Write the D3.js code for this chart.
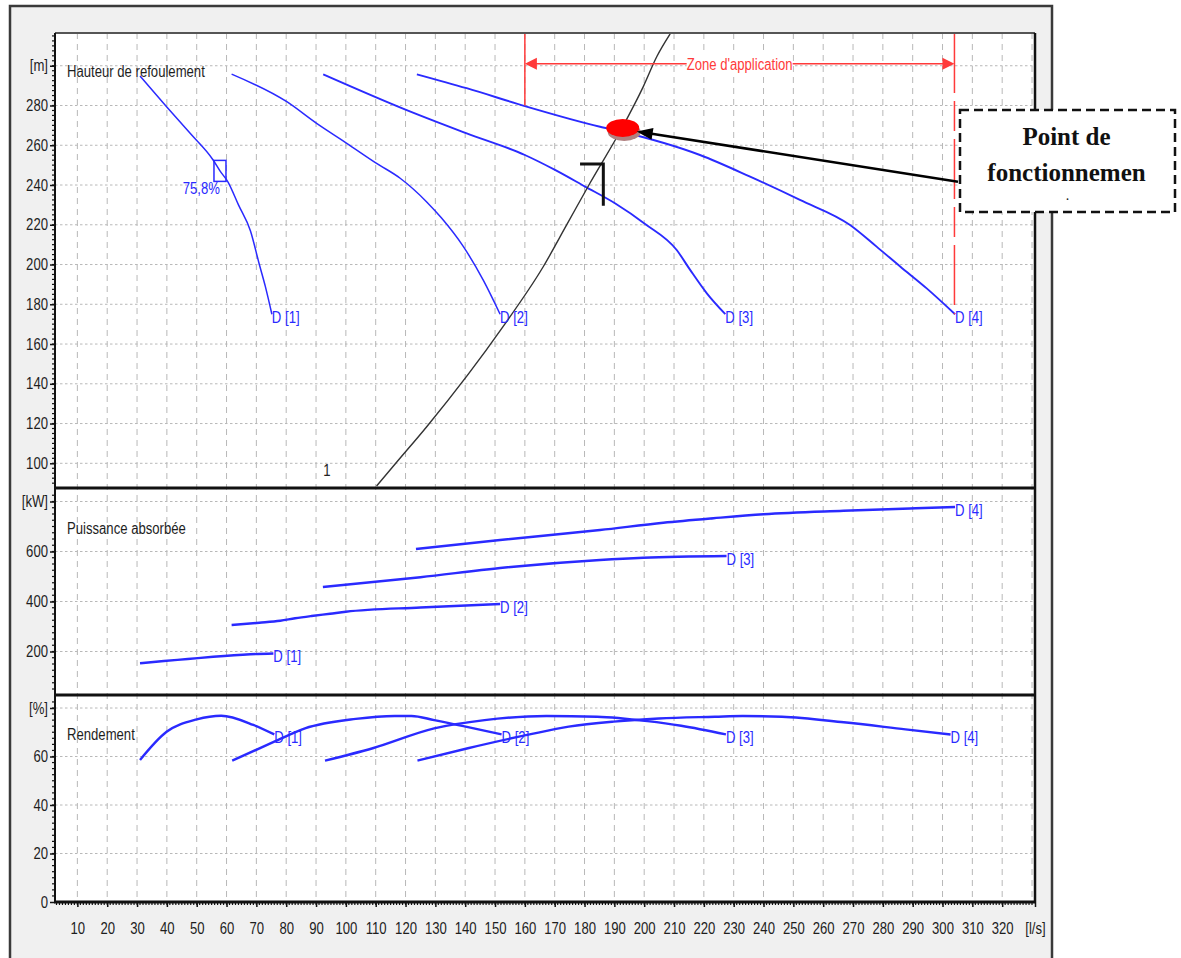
<!DOCTYPE html>
<html>
<head>
<meta charset="utf-8">
<script src="https://cdn.jsdelivr.net/npm/d3@7"></script>
<style>
  body { margin: 0; background: #fff; }
  svg { display: block; }
  .t { font-family: "Liberation Sans", Arial, sans-serif; font-size: 16px; }
</style>
</head>
<body>
<div id="chart"></div>
<script>
// ---- Daten ----
// Achsenbeschriftungen
const qTicks = [10,20,30,40,50,60,70,80,90,100,110,120,130,140,150,160,170,180,190,200,210,220,230,240,250,260,270,280,290,300,310,320];
const hTicks = [100,120,140,160,180,200,220,240,260,280];
const pTicks = [200,400,600];
const eTicks = [0,20,40,60];

// Förderhöhe H(Q) [m] der 4 Pumpen
const flowH1 = [31, 39.9, 47.8, 55.5, 57.8, 60.5, 64, 68, 71, 73, 75.2];
const headH1 = [294.8, 279.4, 266, 252.6, 247.1, 241.5, 230, 217, 200, 189, 175];
const flowH2 = [61.7, 80.2, 90.2, 100.3, 110.3, 118.2, 127.1, 132, 139.4, 146.1, 151.7];
const headH2 = [295.8, 281.9, 271, 261, 250.9, 243.4, 231.5, 223.5, 209, 192, 175];
const flowH3 = [92.4, 120.4, 140.5, 160, 170.1, 180.2, 190.2, 200.3, 210.9, 215.4, 221, 227.2];
const headH3 = [295.7, 277.7, 266, 255.1, 247.6, 239.2, 230.8, 220.4, 207.3, 197.3, 185.5, 175];
const flowH4 = [123.8, 140.5, 160, 185.2, 192.5, 218.7, 235.5, 252.2, 269, 277.9, 285.8, 294.7, 304.2];
const headH4 = [295.7, 288.7, 279.7, 269.3, 266.8, 255.1, 244.2, 232.5, 219.9, 209, 199, 188, 175];

// Anlagenkennlinie (schwarz)
const flowSys = [110.3, 117, 127.1, 152.8, 166.2, 174, 181.8, 192.6, 199.7, 204.2, 208.7];
const headSys = [88.6, 100.5, 118.4, 169, 199, 219.9, 240.9, 268.8, 289.5, 304.5, 316];

// Leistung P(Q) [kW]
const flowP1 = [31, 39, 47, 55.5, 68, 75.7];
const powP1 = [153, 162, 170, 179, 189, 192];
const flowP2 = [61.7, 71, 78, 83, 88.5, 94.7, 100, 125, 151.7];
const powP2 = [306, 315, 323, 333, 342, 351, 359, 376, 390];
const flowP3 = [92.3, 125, 151.7, 185.2, 199.7, 227.6];
const powP3 = [458, 497, 534, 566, 575, 582];
const flowP4 = [123.5, 151.7, 185.2, 206.4, 223.2, 240, 266.8, 291, 304.2];
const powP4 = [610, 646, 686, 715, 733, 749, 763, 773, 778];

// Wirkungsgrad [%]
const flowE1 = [31, 39.9, 50, 58.2, 69, 76];
const effE1 = [58.6, 70.2, 75.3, 76.8, 73, 69.1];
const flowE2 = [61.9, 76, 86.3, 103.3, 116.4, 122, 129.6, 139, 152.2];
const effE2 = [58.3, 66.1, 71.6, 75.5, 76.7, 76.7, 75, 72.6, 69.1];
const flowE3 = [93, 109, 129.6, 146.5, 167.2, 184.2, 201.1, 212.4, 227.4];
const effE3 = [58.3, 63.4, 71.6, 75, 76.7, 76.4, 74.6, 72.7, 69.1];
const flowE4 = [124, 140.9, 161.6, 174.7, 189.8, 204.9, 223.7, 233, 246.2, 266.9, 287.6, 302.7];
const effE4 = [58.3, 63.4, 69.1, 72.3, 74.4, 75.7, 76.4, 76.7, 76.4, 74.1, 71.2, 69.1];

const pumpNames = ["D [1]", "D [2]", "D [3]", "D [4]"];
const zoneFlow = [160, 304];       // Zone d'application
const zoneHead = 301;
const bepFlow = 57.8, bepHead = 247.1, bepText = "75,8%";
const opFlow = 192.8, opHead = 268.7;  // Point de fonctionnement
const markFlow = [178.5, 186.3], markHead = [250.6, 229.6];

// ---- Zeichnung ----
const width = 1181, height = 958;
const pl = 55, pr = 1035, pt = 33, pb = 902;
const div1 = 488, div2 = 695;

const svg = d3.select("#chart").append("svg")
  .attr("width", width).attr("height", height)
  .attr("viewBox", `0 0 ${width} ${height}`);

const x = d3.scaleLinear().domain([2.5, 331]).range([pl, pr]);
const yH = d3.scaleLinear().domain([100, 280]).range([463.3, 105.5]);
const yP = d3.scaleLinear().domain([200, 600]).range([651.5, 551.5]);
const yE = d3.scaleLinear().domain([0, 60]).range([902, 756.5]);

const blue = "#2a2aff";
const labelCol = "#1e1e1e";

// Rahmen
svg.append("rect").attr("x", 10).attr("y", 6).attr("width", 1042).attr("height", 960)
  .attr("fill", "#f0f0f0").attr("stroke", "#3a3a3a").attr("stroke-width", 2.5);
svg.append("rect").attr("x", pl).attr("y", pt).attr("width", pr - pl).attr("height", pb - pt)
  .attr("fill", "#fff");

// Clip-Pfade für die drei Bereiche
const defs = svg.append("defs");
[["cH", pt, div1], ["cP", div1, div2], ["cE", div2, pb]].forEach(([id, a, b]) => {
  defs.append("clipPath").attr("id", id).append("rect")
    .attr("x", pl).attr("y", a).attr("width", pr - pl).attr("height", b - a);
});

// Gitter
const grid = svg.append("g");
grid.selectAll("line.v").data([...qTicks, 330]).join("line")
  .attr("x1", d => x(d)).attr("x2", d => x(d)).attr("y1", pt).attr("y2", pb)
  .attr("stroke", "#b8b8b8").attr("stroke-width", 1).attr("stroke-dasharray", "6,5");
const hGrid = [...hTicks.map(yH), yH(300), ...pTicks.map(yP), yP(800), ...eTicks.slice(1).map(yE), yE(80)];
grid.selectAll("line.h").data(hGrid).join("line")
  .attr("x1", pl).attr("x2", pr).attr("y1", d => d).attr("y2", d => d)
  .attr("stroke", "#b8b8b8").attr("stroke-width", 1).attr("stroke-dasharray", "2.5,2.5");

// Kurven
const curve = (ys) => d3.line().x(d => x(d[0])).y(d => ys(d[1])).curve(d3.curveMonotoneX);
const gH = svg.append("g").attr("clip-path", "url(#cH)");
const gP = svg.append("g").attr("clip-path", "url(#cP)");
const gE = svg.append("g").attr("clip-path", "url(#cE)");

const hSets = [[flowH1, headH1], [flowH2, headH2], [flowH3, headH3], [flowH4, headH4]];
const pSets = [[flowP1, powP1], [flowP2, powP2], [flowP3, powP3], [flowP4, powP4]];
const eSets = [[flowE1, effE1], [flowE2, effE2], [flowE3, effE3], [flowE4, effE4]];

hSets.forEach(([q, v], i) => gH.append("path").attr("d", curve(yH)(d3.zip(q, v)))
  .attr("fill", "none").attr("stroke", blue).attr("stroke-width", i < 2 ? 1.5 : 1.9));
pSets.forEach(([q, v]) => gP.append("path").attr("d", curve(yP)(d3.zip(q, v)))
  .attr("fill", "none").attr("stroke", blue).attr("stroke-width", 2.4));
eSets.forEach(([q, v]) => gE.append("path").attr("d", curve(yE)(d3.zip(q, v)))
  .attr("fill", "none").attr("stroke", blue).attr("stroke-width", 2.4));

// Anlagenkennlinie
gH.append("path").attr("d", curve(yH)(d3.zip(flowSys, headSys)))
  .attr("fill", "none").attr("stroke", "#333").attr("stroke-width", 1.4);

// Pumpen-Labels am Kurvenende
const endLabels = (sets, ys) => {
  svg.append("g").selectAll("text").data(sets).join("text")
    .attr("class", "t")
    .attr("x", d => x(d[0][d[0].length - 1]))
    .attr("y", d => ys(d[1][d[1].length - 1]) + 9)
    .attr("fill", blue)
    .text((d, i) => pumpNames[i]);
};
endLabels(hSets, yH);
endLabels(pSets, yP);
endLabels(eSets, yE);

// Bestpunkt D[1]
svg.append("rect").attr("x", x(bepFlow) - 6).attr("y", yH(bepHead) - 10.5)
  .attr("width", 12).attr("height", 21).attr("fill", "none").attr("stroke", blue).attr("stroke-width", 1.5);
svg.append("text").attr("class", "t").attr("x", x(bepFlow)).attr("y", yH(bepHead) + 23)
  .attr("text-anchor", "end").attr("fill", blue).text(bepText);

// Markierung "1" und Winkel
svg.append("text").attr("class", "t").attr("x", 327).attr("y", yH(88.6) - 10)
  .attr("text-anchor", "middle").attr("fill", "#222").text("1");
svg.append("path")
  .attr("d", `M${x(markFlow[0])},${yH(markHead[0])}H${x(markFlow[1])}V${yH(markHead[1])}`)
  .attr("fill", "none").attr("stroke", "#111").attr("stroke-width", 3);

// Zone d'application
const red = "#ff3a3a";
const zg = svg.append("g");
zg.append("line").attr("x1", x(zoneFlow[0])).attr("x2", x(zoneFlow[0]))
  .attr("y1", pt).attr("y2", yH(280)).attr("stroke", red).attr("stroke-width", 1.5);
zg.append("line").attr("x1", x(zoneFlow[1])).attr("x2", x(zoneFlow[1]))
  .attr("y1", pt).attr("y2", yH(175)).attr("stroke", red).attr("stroke-width", 1.5)
  .attr("stroke-dasharray", "60,8,30,8");
zg.append("line").attr("x1", x(zoneFlow[0]) + 10).attr("x2", x(zoneFlow[1]) - 10)
  .attr("y1", yH(zoneHead)).attr("y2", yH(zoneHead)).attr("stroke", red).attr("stroke-width", 1.5);
const zy = yH(zoneHead);
zg.append("path").attr("d", `M${x(zoneFlow[0])},${zy}l12,-6v12z`).attr("fill", red);
zg.append("path").attr("d", `M${x(zoneFlow[1])},${zy}l-12,-6v12z`).attr("fill", red);
const zx = x((zoneFlow[0] + zoneFlow[1]) / 2);
zg.append("rect").attr("x", zx - 53).attr("y", zy - 9).attr("width", 106).attr("height", 18).attr("fill", "#fff");
zg.append("text").attr("class", "t").attr("x", zx).attr("y", zy + 6)
  .attr("text-anchor", "middle").attr("fill", red).text("Zone d'application");

// Achsen
const styleAxis = (g) => {
  g.select(".domain").remove();
  g.selectAll(".tick line").attr("stroke", "#111").attr("stroke-width", 1.5);
  g.selectAll(".tick text").attr("class", "t").attr("fill", labelCol);
};
svg.append("g").attr("transform", `translate(${pl},0)`)
  .call(d3.axisLeft(yH).tickValues([...hTicks, 300]).tickFormat(d => d === 300 ? "[m]" : d).tickSize(5).tickPadding(2))
  .call(styleAxis);
svg.append("g").attr("transform", `translate(${pl},0)`)
  .call(d3.axisLeft(yP).tickValues([...pTicks, 800]).tickFormat(d => d === 800 ? "[kW]" : d).tickSize(5).tickPadding(2))
  .call(styleAxis);
svg.append("g").attr("transform", `translate(${pl},0)`)
  .call(d3.axisLeft(yE).tickValues([...eTicks, 80]).tickFormat(d => d === 80 ? "[%]" : d).tickSize(5).tickPadding(2))
  .call(styleAxis);
svg.append("g").attr("transform", `translate(0,${pb})`)
  .call(d3.axisBottom(x).tickValues([...qTicks, 331]).tickFormat(d => d === 331 ? "[l/s]" : d).tickSize(5).tickPadding(16))
  .call(styleAxis);

// Kleine Teilstriche
const minor = svg.append("g").attr("stroke", "#111").attr("stroke-width", 1.2);
const minorY = [
  ...d3.range(90, 316, 2.5).map(yH),
  ...d3.range(50, 850, 25).map(yP),
  ...d3.range(0, 85, 2.5).map(yE)
].filter(y => y > pt + 1 && y < pb - 1);
minor.selectAll("line.my").data(minorY).join("line")
  .attr("x1", pl - 3).attr("x2", pl).attr("y1", d => d).attr("y2", d => d);
minor.selectAll("line.mx").data(d3.range(3, 331, 1)).join("line")
  .attr("x1", d => x(d)).attr("x2", d => x(d)).attr("y1", pb).attr("y2", pb + 3);

// Rahmen des Diagramms und Trennlinien
svg.append("line").attr("x1", pl).attr("x2", pr).attr("y1", pt).attr("y2", pt).attr("stroke", "#555").attr("stroke-width", 2);
svg.append("line").attr("x1", pl).attr("x2", pl).attr("y1", pt).attr("y2", pb).attr("stroke", "#111").attr("stroke-width", 2);
svg.append("line").attr("x1", pr).attr("x2", pr).attr("y1", pt).attr("y2", pb).attr("stroke", "#111").attr("stroke-width", 2.5);
svg.append("line").attr("x1", pl - 1).attr("x2", pr + 1).attr("y1", pb).attr("y2", pb).attr("stroke", "#111").attr("stroke-width", 3);
[div1, div2].forEach(yv => svg.append("line").attr("x1", pl).attr("x2", pr).attr("y1", yv).attr("y2", yv)
  .attr("stroke", "#111").attr("stroke-width", 3));

// Bereichstitel
[["Hauteur de refoulement", 77], ["Puissance absorbée", 534], ["Rendement", 740]].forEach(([s, yv]) =>
  svg.append("text").attr("class", "t").attr("x", 67).attr("y", yv).attr("fill", labelCol).text(s));

// Schmale Schrift nachbilden: Text horizontal stauchen (um den Ankerpunkt)
svg.selectAll("text.t").each(function () {
  const tx = +this.getAttribute("x") || 0, ty = +this.getAttribute("y") || 0;
  d3.select(this).attr("transform", `translate(${tx},${ty}) scale(0.82,1) translate(${-tx},${-ty})`);
});

// Betriebspunkt
const ox = x(opFlow), oy = yH(opHead);
svg.append("ellipse").attr("cx", ox + 1.5).attr("cy", oy + 4).attr("rx", 16.5).attr("ry", 9)
  .attr("fill", "#b08080");
svg.append("ellipse").attr("cx", ox).attr("cy", oy).attr("rx", 16.5).attr("ry", 9)
  .attr("fill", "#ff0000");

// Kommentar-Box
const bx = 960, by = 110, bw = 215, bh = 102;
svg.append("rect").attr("x", bx).attr("y", by).attr("width", bw).attr("height", bh)
  .attr("fill", "#fff").attr("stroke", "#111").attr("stroke-width", 2.5).attr("stroke-dasharray", "9,5");
const bt = svg.append("g").attr("font-family", "'Liberation Serif', 'Times New Roman', serif")
  .attr("font-weight", "bold").attr("font-size", 25).attr("fill", "#111").attr("text-anchor", "middle");
bt.append("text").attr("x", bx + bw / 2 - 1).attr("y", by + 35).text("Point de");
bt.append("text").attr("x", bx + bw / 2 - 1).attr("y", by + 71).text("fonctionnemen");
bt.append("text").attr("x", bx + bw / 2).attr("y", by + 90).attr("font-size", 10).text(".");

// Pfeil
const ax0 = bx - 2, ay0 = 181.7, ax1 = ox + 14, ay1 = oy + 3.5;
const ang = Math.atan2(ay1 - ay0, ax1 - ax0);
svg.append("line").attr("x1", ax0).attr("y1", ay0)
  .attr("x2", ax1 - 12 * Math.cos(ang)).attr("y2", ay1 - 12 * Math.sin(ang))
  .attr("stroke", "#000").attr("stroke-width", 2.5);
svg.append("path")
  .attr("d", d3.line()([[ax1, ay1],
    [ax1 - 16 * Math.cos(ang) + 6 * Math.sin(ang), ay1 - 16 * Math.sin(ang) - 6 * Math.cos(ang)],
    [ax1 - 16 * Math.cos(ang) - 6 * Math.sin(ang), ay1 - 16 * Math.sin(ang) + 6 * Math.cos(ang)]]) + "Z")
  .attr("fill", "#000");
</script>
</body>
</html>
